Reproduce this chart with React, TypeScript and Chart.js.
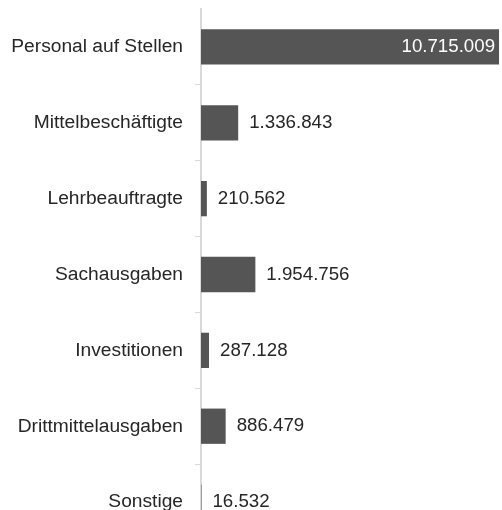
import React, { useEffect, useRef } from "react";
import { Chart, registerables } from "chart.js";

Chart.register(...registerables);

const categories = [
  "Personal auf Stellen",
  "Mittelbeschäftigte",
  "Lehrbeauftragte",
  "Sachausgaben",
  "Investitionen",
  "Drittmittelausgaben",
  "Sonstige",
];
const values = [10715009, 1336843, 210562, 1954756, 287128, 886479, 16532];
const xMax = 10750000;

const BAR_COLOR = "#555555";
const TEXT_COLOR = "#262626";
const AXIS_COLOR = "#d9d9d9";
const FONT_FAMILY = "'Liberation Sans', Arial, sans-serif";
const LABEL_SIZE = 19.2;
const VALUE_SIZE = 18.7;

function fmt(v: number): string {
  const s = Math.round(v).toString();
  return s.replace(/\B(?=(\d{3})+(?!\d))/g, ".");
}

const valueLabels = {
  id: "valueLabels",
  afterDatasetsDraw(chart: any) {
    const ctx = chart.ctx;
    const meta = chart.getDatasetMeta(0);
    ctx.save();
    ctx.font = `${VALUE_SIZE}px ${FONT_FAMILY}`;
    ctx.textBaseline = "middle";
    meta.data.forEach((bar: any, i: number) => {
      const v = values[i];
      const text = fmt(v);
      const w = ctx.measureText(text).width;
      const barLen = bar.x - bar.base;
      if (barLen > w + 20) {
        ctx.fillStyle = "#ffffff";
        ctx.textAlign = "right";
        ctx.fillText(text, bar.x - 4, bar.y);
      } else {
        ctx.fillStyle = TEXT_COLOR;
        ctx.textAlign = "left";
        ctx.fillText(text, bar.x + 11, bar.y);
      }
    });
    ctx.restore();
  },
};

export default function App() {
  const ref = useRef<HTMLCanvasElement | null>(null);
  useEffect(() => {
    if (!ref.current) return;
    const chart = new Chart(ref.current, {
      type: "bar",
      data: {
        labels: categories,
        datasets: [
          {
            data: values,
            backgroundColor: BAR_COLOR,
            borderWidth: 0,
            categoryPercentage: 1,
            barPercentage: 0.465,
          },
        ],
      },
      options: {
        indexAxis: "y",
        responsive: false,
        animation: false,
        layout: { padding: { top: 9, right: 2, bottom: 5, left: 0 } },
        plugins: {
          legend: { display: false },
          tooltip: { enabled: false },
        },
        scales: {
          x: {
            display: false,
            min: 0,
            max: xMax,
          },
          y: {
            afterFit: (scale: any) => {
              scale.width = 201;
              scale.paddingTop = 0;
              scale.paddingBottom = 0;
            },
            grid: {
              offset: true,
              drawOnChartArea: false,
              drawTicks: true,
              tickLength: 6,
              color: (c: any) => (c.index === 0 ? "rgba(0,0,0,0)" : AXIS_COLOR),
              lineWidth: 1,
            },
            border: { display: true, color: AXIS_COLOR, width: 2 },
            ticks: {
              color: TEXT_COLOR,
              padding: 12,
              font: { size: LABEL_SIZE, family: FONT_FAMILY },
            },
          },
        },
      },
      plugins: [valueLabels],
    });
    return () => chart.destroy();
  }, []);
  return (
    <div
      style={{
        position: "fixed",
        left: 0,
        top: 0,
        width: 502,
        height: 510,
        overflow: "hidden",
        background: "#ffffff",
      }}
    >
      <canvas ref={ref} width={502} height={545} />
    </div>
  );
}
